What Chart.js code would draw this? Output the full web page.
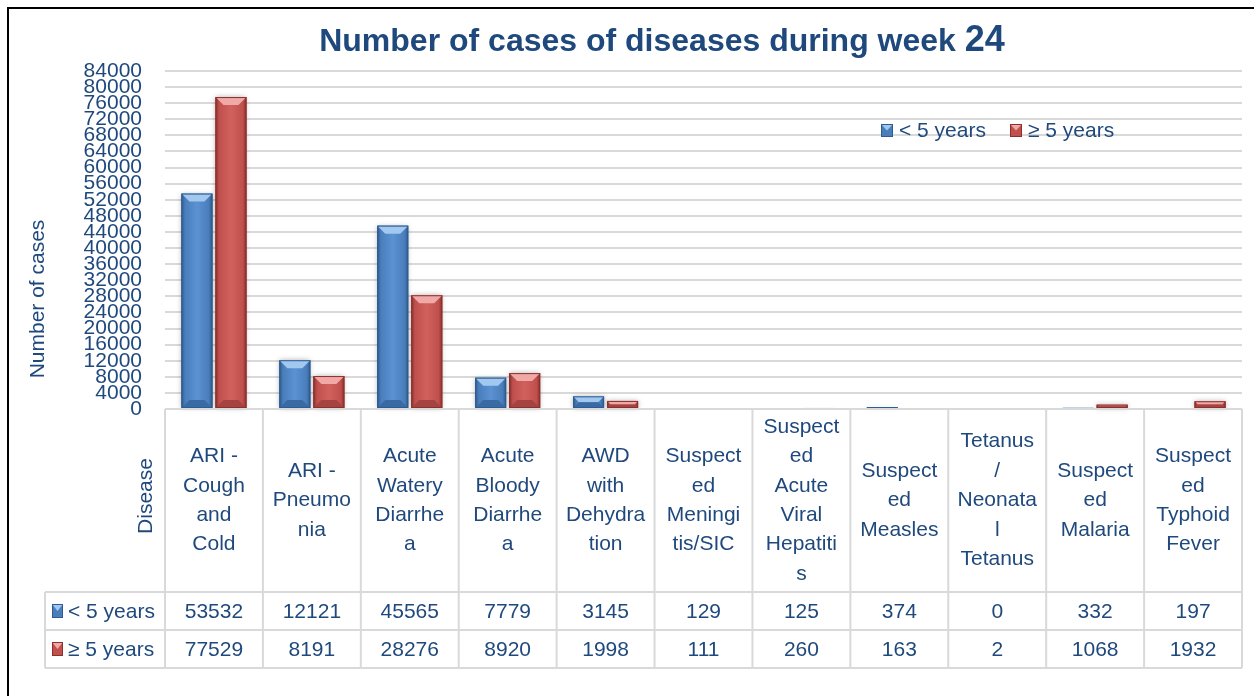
<!DOCTYPE html>
<html>
<head>
<meta charset="utf-8">
<script src="https://cdn.jsdelivr.net/npm/chart.js@4.4.1/dist/chart.umd.min.js"></script>
<style>
  html, body { margin: 0; padding: 0; background: #fff; }
  #wrap { width: 1254px; height: 696px; position: relative; }
</style>
</head>
<body>
<div id="wrap"><canvas id="chart" width="1254" height="696"></canvas></div>
<script>
// data
const categories = [
  ["ARI -", "Cough", "and", "Cold"],
  ["ARI -", "Pneumo", "nia"],
  ["Acute", "Watery", "Diarrhe", "a"],
  ["Acute", "Bloody", "Diarrhe", "a"],
  ["AWD", "with", "Dehydra", "tion"],
  ["Suspect", "ed", "Meningi", "tis/SIC"],
  ["Suspect", "ed", "Acute", "Viral", "Hepatiti", "s"],
  ["Suspect", "ed", "Measles"],
  ["Tetanus", "/", "Neonata", "l", "Tetanus"],
  ["Suspect", "ed", "Malaria"],
  ["Suspect", "ed", "Typhoid", "Fever"]
];
const under5 = [53532, 12121, 45565, 7779, 3145, 129, 125, 374, 0, 332, 197];
const over5 = [77529, 8191, 28276, 8920, 1998, 111, 260, 163, 2, 1068, 1932];
const seriesNames = ["< 5 years", "≥ 5 years"];
const yMax = 84000;
const yStep = 4000;
const chartTitle = "Number of cases of diseases during week ";
const weekNo = "24";
const yTitle = "Number of cases";
const xTitle = "Disease";

const FONT = "'Liberation Sans', Arial, sans-serif";
const TEXT = "#1F497D";
const LINE = "#D9D9D9";

const palettes = [
  { face: "#4A7EBB", light: "#5B92D2", edge: "#2E5B91", top: "#A3C8F0", bottom: "#3A6AA3" },
  { face: "#C0504D", light: "#D1615D", edge: "#8C302D", top: "#F0A9A6", bottom: "#A54340" }
];

// table geometry (below the plot)
const headH = 183;
const rowH = 38;
const tableLeft = 45;

function drawBox(ctx, x, y, w, h, pal) {
  ctx.fillStyle = pal.face;
  ctx.fillRect(x, y, w, h);
  ctx.fillStyle = pal.top;
  ctx.beginPath();
  ctx.moveTo(x, y); ctx.lineTo(x + w, y); ctx.lineTo(x + w / 2, y + h / 2); ctx.closePath();
  ctx.fill();
  ctx.strokeStyle = pal.edge; ctx.lineWidth = 1;
  ctx.strokeRect(x + 0.5, y + 0.5, w - 1, h - 1);
}

const decor = {
  id: "decor",
  beforeDraw(chart) {
    const ctx = chart.ctx;
    ctx.save();
    ctx.fillStyle = "#fff";
    ctx.fillRect(0, 0, chart.width, chart.height);
    ctx.strokeStyle = "#000";
    ctx.lineWidth = 2;
    ctx.beginPath();
    ctx.moveTo(8, chart.height + 2); ctx.lineTo(8, 8); ctx.lineTo(chart.width + 2, 8);
    ctx.stroke();
    ctx.restore();
  },
  afterDatasetsDraw(chart) {
    const ctx = chart.ctx;
    ctx.save();
    chart.data.datasets.forEach((ds, di) => {
      const pal = palettes[di];
      chart.getDatasetMeta(di).data.forEach(bar => {
        const { x, y, base, width } = bar.getProps(["x", "y", "base", "width"], true);
        const h = base - y;
        if (h < 0.5) return;
        const L = x - width / 2, R = x + width / 2;
        const g = ctx.createLinearGradient(L, 0, R, 0);
        g.addColorStop(0, pal.edge);
        g.addColorStop(0.12, pal.face);
        g.addColorStop(0.5, pal.light);
        g.addColorStop(0.88, pal.face);
        g.addColorStop(1, pal.edge);
        ctx.shadowColor = "rgba(0,0,0,0.3)";
        ctx.shadowBlur = 5;
        ctx.fillStyle = g;
        ctx.fillRect(L, y, width, h);
        ctx.shadowColor = "transparent";
        const d = Math.min(8, h / 2);
        ctx.fillStyle = pal.top;
        ctx.beginPath();
        ctx.moveTo(L, y); ctx.lineTo(R, y); ctx.lineTo(R - d, y + d); ctx.lineTo(L + d, y + d); ctx.closePath();
        ctx.fill();
        ctx.fillStyle = pal.bottom;
        ctx.beginPath();
        ctx.moveTo(L, base); ctx.lineTo(R, base); ctx.lineTo(R - d, base - d); ctx.lineTo(L + d, base - d); ctx.closePath();
        ctx.fill();
        ctx.strokeStyle = pal.edge;
        ctx.lineWidth = 1;
        ctx.strokeRect(L + 0.5, y + 0.5, width - 1, h - 1);
      });
    });
    ctx.restore();
  },
  afterDraw(chart) {
    const ctx = chart.ctx;
    const area = chart.chartArea;
    const xs = chart.scales.x;
    const n = chart.data.labels.length;
    const colW = (area.right - area.left) / n;
    const top = area.bottom;
    const r1 = top + headH, r2 = r1 + rowH, r3 = r2 + rowH;
    ctx.save();

    // title
    ctx.fillStyle = TEXT;
    ctx.textBaseline = "alphabetic";
    ctx.font = "bold 32px " + FONT;
    const w1 = ctx.measureText(chartTitle).width;
    ctx.font = "bold 36px " + FONT;
    const w2 = ctx.measureText(weekNo).width;
    const tx = 662 - (w1 + w2) / 2;
    ctx.textAlign = "left";
    ctx.font = "bold 32px " + FONT;
    ctx.fillText(chartTitle, tx, 51);
    ctx.font = "bold 36px " + FONT;
    ctx.fillText(weekNo, tx + w1, 51);

    // axis titles
    ctx.font = "21px " + FONT;
    ctx.textAlign = "center";
    ctx.textBaseline = "middle";
    ctx.save();
    ctx.translate(38, 299); ctx.rotate(-Math.PI / 2);
    ctx.fillText(yTitle, 0, 0);
    ctx.restore();
    ctx.save();
    ctx.translate(146, 496); ctx.rotate(-Math.PI / 2);
    ctx.fillText(xTitle, 0, 0);
    ctx.restore();

    // legend inside the plot
    const legX = [881, 1010];
    chart.data.datasets.forEach((ds, di) => {
      drawBox(ctx, legX[di], 124, 12, 13, palettes[di]);
      ctx.fillStyle = TEXT;
      ctx.textAlign = "left";
      ctx.fillText(ds.label, legX[di] + 18, 131);
    });

    // data table
    ctx.strokeStyle = LINE;
    ctx.lineWidth = 2;
    ctx.beginPath();
    ctx.moveTo(area.left, top); ctx.lineTo(area.right, top);
    [r1, r2, r3].forEach(yy => { ctx.moveTo(tableLeft, yy); ctx.lineTo(area.right, yy); });
    ctx.moveTo(tableLeft, r1); ctx.lineTo(tableLeft, r3);
    for (let i = 0; i <= n; i++) {
      const xx = i < n ? xs.getPixelForValue(i) - colW / 2 : xs.getPixelForValue(n - 1) + colW / 2;
      ctx.moveTo(xx, top); ctx.lineTo(xx, r3);
    }
    ctx.stroke();

    ctx.fillStyle = TEXT;
    ctx.textAlign = "center";
    ctx.textBaseline = "middle";
    ctx.font = "21px " + FONT;
    const lh = 29.4;
    chart.data.labels.forEach((lab, i) => {
      const cx = xs.getPixelForValue(i);
      const y0 = (top + r1) / 2 - (lab.length - 1) * lh / 2;
      lab.forEach((s, k) => ctx.fillText(s, cx, y0 + k * lh));
      chart.data.datasets.forEach((ds, di) => {
        ctx.fillText(String(ds.data[i]), cx, r1 + rowH * di + rowH / 2 + 1);
      });
    });
    chart.data.datasets.forEach((ds, di) => {
      const cy = r1 + rowH * di + rowH / 2;
      drawBox(ctx, 52, cy - 7, 11, 14, palettes[di]);
      ctx.fillStyle = TEXT;
      ctx.textAlign = "left";
      ctx.fillText(ds.label, 68, cy + 1);
    });
    ctx.restore();
  }
};

new Chart(document.getElementById("chart"), {
  type: "bar",
  data: {
    labels: categories,
    datasets: [
      { label: seriesNames[0], data: under5, backgroundColor: palettes[0].face, borderWidth: 0 },
      { label: seriesNames[1], data: over5, backgroundColor: palettes[1].face, borderWidth: 0 }
    ]
  },
  options: {
    responsive: false,
    animation: false,
    events: [],
    datasets: { bar: { categoryPercentage: 0.695, barPercentage: 0.91 } },
    layout: { padding: { left: 0, right: 12, top: 71, bottom: 287 } },
    plugins: { legend: { display: false }, title: { display: false }, tooltip: { enabled: false } },
    scales: {
      x: {
        afterFit(scale) { scale.height = 0; },
        ticks: { display: false },
        grid: { display: false },
        border: { display: false }
      },
      y: {
        min: 0,
        max: yMax,
        afterFit(scale) { scale.width = 165; },
        border: { display: false },
        grid: { color: LINE, lineWidth: 2, drawTicks: false },
        ticks: {
          stepSize: yStep,
          autoSkip: false,
          maxTicksLimit: 40,
          padding: 23,
          color: TEXT,
          font: { family: FONT, size: 21 },
          callback: v => String(v)
        }
      }
    }
  },
  plugins: [decor]
});
</script>
</body>
</html>
